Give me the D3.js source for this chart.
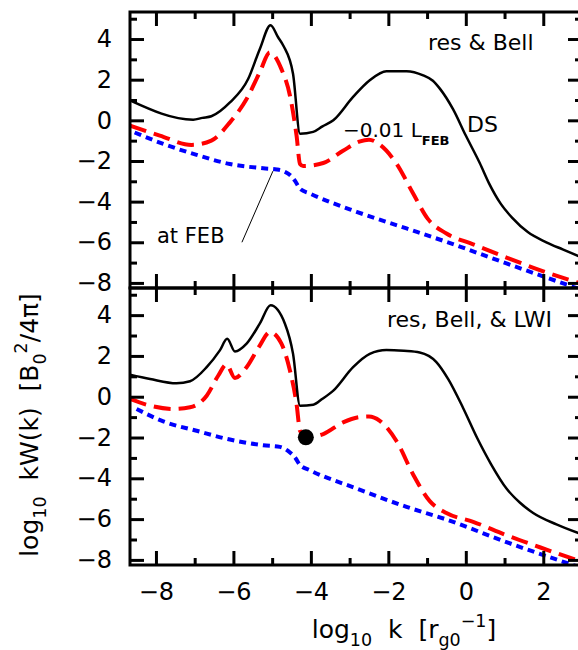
<!DOCTYPE html>
<html>
<head>
<meta charset="utf-8">
<script src="https://cdn.jsdelivr.net/npm/d3@7"></script>
<style>
  body { margin: 0; background: #fff; }
  svg { display: block; font-family: "DejaVu Sans", sans-serif; }
</style>
</head>
<body>
<svg id="chart" width="578" height="650"></svg>
<script>
"use strict";

// log10 k, log10 kW(k)
var topSolid = [[-8.67,0.98],[-7.04,0.03],[-6.8,0.12],[-6.57,0.2],[-6.09,0.88],[-5.62,2.03],[-5.32,3.5],
  [-5.04,4.68],[-4.85,4.1],[-4.71,3.67],[-4.46,2.28],[-4.28,-0.66],[-3.94,-0.57],[-3.7,-0.3],[-3.42,0.0],
  [-2.91,1.15],[-2.48,1.97],[-2.05,2.42],[-1.53,2.42],[-1.1,2.21],[-0.85,1.95],[-0.67,1.56],[-0.33,0.55],
  [0.0,-0.75],[0.36,-2.1],[0.6,-3.1],[0.9,-4.1],[1.2,-4.8],[1.6,-5.5],[2.08,-6.0],[2.5,-6.35],[3.0,-6.75]];
var topDashed = [[-8.67,-0.26],[-7.9,-0.75],[-7.08,-1.21],[-6.57,-1.0],[-6.09,-0.1],[-5.66,1.05],[-5.32,2.36],
  [-5.06,3.34],[-4.76,2.52],[-4.54,1.21],[-4.37,-0.75],[-4.28,-2.15],[-4.2,-2.25],[-3.68,-2.1],[-3.17,-1.5],
  [-2.75,-1.05],[-2.5,-0.95],[-2.22,-1.2],[-1.79,-2.13],[-1.36,-3.6],[-0.98,-4.85],[-0.5,-5.57],[0.19,-6.1],
  [1.05,-6.75],[1.91,-7.37],[3.0,-8.05]];
var topDotted = [[-8.55,-0.6],[-7.81,-1.16],[-6.95,-1.7],[-6.09,-2.15],[-5.23,-2.36],[-4.88,-2.42],
  [-4.65,-2.55],[-4.54,-2.69],[-4.4,-3.0],[-4.28,-3.37],[-4.03,-3.6],[-2.82,-4.5],[-1.53,-5.32],
  [-0.5,-5.98],[1.05,-7.04],[3.0,-8.35]];

var botSolid = [[-8.67,1.08],[-8.15,0.87],[-7.47,0.66],[-7.12,0.76],[-6.69,1.45],[-6.35,2.27],[-6.16,2.84],
  [-5.96,2.22],[-5.66,2.6],[-5.32,3.58],[-5.04,4.48],[-4.67,3.58],[-4.46,2.1],[-4.28,-0.44],[-3.94,-0.39],
  [-3.7,-0.1],[-3.42,0.3],[-2.91,1.45],[-2.48,2.1],[-2.05,2.29],[-1.6,2.25],[-1.19,2.17],[-0.76,1.7],
  [-0.45,0.85],[-0.07,-0.55],[0.3,-2.05],[0.65,-3.3],[1.05,-4.5],[1.4,-5.2],[1.74,-5.7],[2.34,-6.26],[3.0,-6.75]];
var botDashed = [[-8.67,-0.11],[-8.15,-0.44],[-7.55,-0.6],[-7.12,-0.52],[-6.69,0.05],[-6.39,1.04],[-6.18,1.58],
  [-5.96,0.92],[-5.66,1.45],[-5.32,2.51],[-5.06,3.17],[-4.76,2.6],[-4.54,1.28],[-4.37,-0.36],[-4.28,-1.67],
  [-4.13,-1.99],[-3.68,-1.83],[-3.17,-1.26],[-2.75,-1.0],[-2.5,-0.97],[-2.22,-1.18],[-1.79,-2.17],
  [-1.36,-3.81],[-0.93,-5.12],[-0.5,-5.7],[0.19,-6.13],[1.05,-6.79],[1.91,-7.38],[3.0,-8.1]];
var botDotted = [[-8.5,-0.6],[-7.81,-1.21],[-6.95,-1.67],[-6.09,-2.1],[-5.23,-2.38],[-4.8,-2.46],
  [-4.54,-2.73],[-4.4,-3.0],[-4.28,-3.35],[-4.03,-3.6],[-2.82,-4.5],[-1.53,-5.4],[-0.5,-6.02],
  [1.05,-7.13],[3.0,-8.4]];

var dotPoint = [-4.13, -1.99];   // marked point on the dashed curve, lower panel

var xMajor = [-8, -6, -4, -2, 0, 2];
var xMinor = [-7, -5, -3, -1, 1];
var yMajor = [-8, -6, -4, -2, 0, 2, 4];
var yMinor = [-7, -5, -3, -1, 1, 3, 5];

var svg = d3.select("#chart");

var left = 130, right = 582;
var x = d3.scaleLinear().domain([-8.67, 3]).range([left, right]);

var panels = [
  { top: 12, bottom: 288, solid: topSolid, dashed: topDashed, dotted: topDotted, id: "p1" },
  { top: 288, bottom: 565, solid: botSolid, dashed: botDashed, dotted: botDotted, id: "p2" }
];

var line = d3.line().x(function(d) { return x(d[0]); }).curve(d3.curveMonotoneX);

panels.forEach(function(p, i) {
  var y = d3.scaleLinear().domain([-8.25, 5.33]).range([p.bottom, p.top]);
  p.y = y;
  var g = svg.append("g");

  svg.append("clipPath").attr("id", "clip" + p.id)
    .append("rect").attr("x", left).attr("y", p.top)
    .attr("width", right - left).attr("height", p.bottom - p.top);

  var curves = g.append("g").attr("clip-path", "url(#clip" + p.id + ")");
  line.y(function(d) { return y(d[1]); });

  curves.append("path").attr("d", line(p.dotted))
    .attr("fill", "none").attr("stroke", "#0000ff")
    .attr("stroke-width", 4).attr("stroke-dasharray", "7,5");
  curves.append("path").attr("d", line(p.dashed))
    .attr("fill", "none").attr("stroke", "#ff0000")
    .attr("stroke-width", 4).attr("stroke-dasharray", "17,8");
  curves.append("path").attr("d", line(p.solid))
    .attr("fill", "none").attr("stroke", "#000")
    .attr("stroke-width", 2.5).attr("stroke-linejoin", "round");

  // ticks, all pointing inwards
  function ticks(axis, vals, size, tx, ty, labels) {
    var a = g.append("g").attr("transform", "translate(" + tx + "," + ty + ")")
      .call(axis.tickValues(vals).tickSize(-size).tickPadding(18)
        .tickFormat(labels ? d3.format("d") : ""));
    a.select(".domain").remove();
    a.selectAll(".tick line").attr("stroke-width", 3);
    a.selectAll(".tick text").attr("font-size", 24).attr("font-family", "DejaVu Sans").attr("fill", "#000");
    return a;
  }
  ticks(d3.axisLeft(y), yMajor, 14, left, 0, true);
  ticks(d3.axisLeft(y), yMinor.filter(function(v) { return y(v) > p.top + 3; }), 7, left, 0, false);
  ticks(d3.axisRight(y), yMajor, 14, right, 0, false);
  ticks(d3.axisRight(y), yMinor.filter(function(v) { return y(v) > p.top + 3; }), 7, right, 0, false);
  ticks(d3.axisTop(x), xMajor, 14, 0, p.top, false);
  ticks(d3.axisTop(x), xMinor, 7, 0, p.top, false);
  ticks(d3.axisBottom(x), xMajor, 14, 0, p.bottom, i === 1);
  ticks(d3.axisBottom(x), xMinor, 7, 0, p.bottom, false);

  g.append("rect").attr("x", left).attr("y", p.top)
    .attr("width", right - left).attr("height", p.bottom - p.top)
    .attr("fill", "none").attr("stroke", "#000").attr("stroke-width", 3);
});

// annotations
var yT = panels[0].y, yB = panels[1].y;

svg.append("text").attr("x", 428).attr("y", 50).attr("font-size", 22).text("res & Bell");
svg.append("text").attr("x", 387).attr("y", 327).attr("font-size", 22).text("res, Bell, & LWI");
svg.append("text").attr("x", 467).attr("y", 132).attr("font-size", 22).text("DS");

var lfeb = svg.append("text").attr("x", 343).attr("y", 137).attr("font-size", 20);
lfeb.append("tspan").text("\u22120.01 L");
lfeb.append("tspan").attr("font-size", 13).attr("font-weight", "bold").attr("dy", 8).text("FEB");

svg.append("text").attr("x", 157).attr("y", 243).attr("font-size", 21).text("at FEB");
svg.append("line")
  .attr("x1", x(-5.78)).attr("y1", yT(-6.0))
  .attr("x2", x(-4.98)).attr("y2", yT(-2.5))
  .attr("stroke", "#000").attr("stroke-width", 1);

svg.append("circle").attr("cx", x(dotPoint[0])).attr("cy", yB(dotPoint[1]))
  .attr("r", 8).attr("fill", "#000");

// axis titles with sub/superscripts
function richText(sel, parts, size) {
  var cur = 0;
  parts.forEach(function(p) {
    var target = p.s === "sub" ? size * 0.33 : p.s === "sup" ? -size * 0.45 : 0;
    sel.append("tspan")
      .attr("dy", target - cur)
      .attr("font-size", p.s ? size * 0.7 : size)
      .text(p.t);
    cur = target;
  });
}

var ylab = svg.append("text")
  .attr("transform", "translate(38,425) rotate(-90)")
  .attr("text-anchor", "middle").style("white-space", "pre");
richText(ylab, [{t: "log"}, {t: "10", s: "sub"}, {t: "  kW(k)  [B"}, {t: "0", s: "sub"},
  {t: "2", s: "sup"}, {t: "/4\u03c0]"}], 25);

var xlab = svg.append("text")
  .attr("x", 404).attr("y", 638)
  .attr("text-anchor", "middle").style("white-space", "pre");
richText(xlab, [{t: "log"}, {t: "10", s: "sub"}, {t: "  k  [r"}, {t: "g0", s: "sub"},
  {t: "\u22121", s: "sup"}, {t: "]"}], 25);
</script>
</body>
</html>
